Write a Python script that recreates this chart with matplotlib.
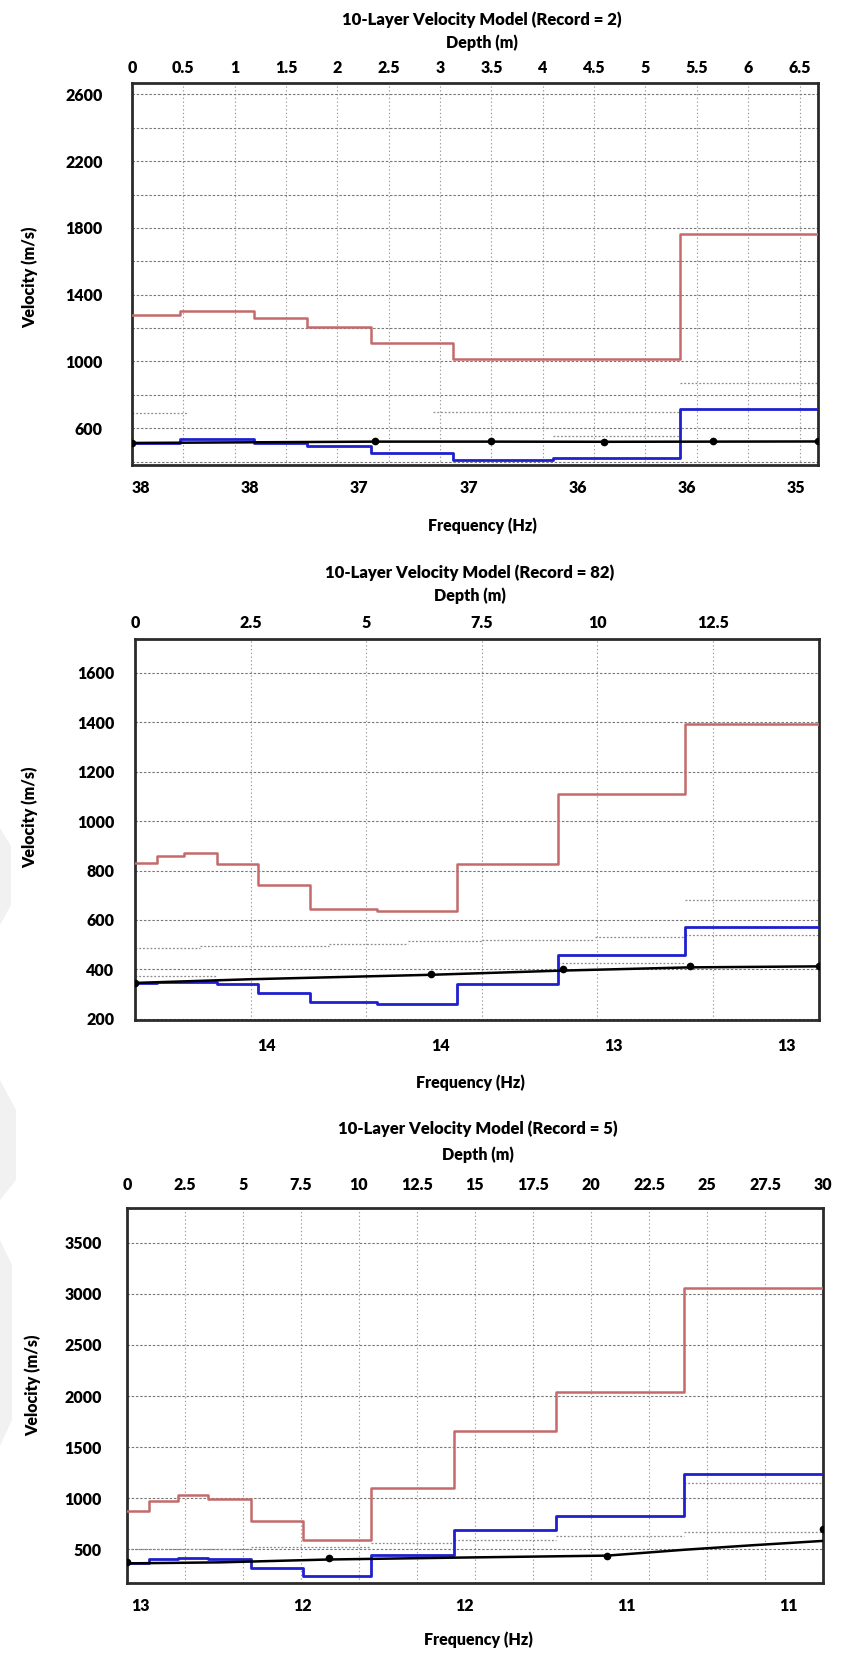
import numpy as np
import matplotlib
matplotlib.use("Agg")
import matplotlib.pyplot as plt
from matplotlib.patches import Polygon
from matplotlib.ticker import FixedLocator, MultipleLocator

plt.rcParams['font.family'] = ['Lato', 'DejaVu Sans']
plt.rcParams['font.weight'] = 'bold'

W, H = 843, 1654
WEIGHT = 'heavy'

# ---------------- Record 2 ----------------
rec2_layer_top = [0, 0.47, 1.19, 1.70, 2.33, 3.13, 4.10, 5.34]
rec2_vp = [1278, 1302, 1260, 1207, 1113, 1015, 1015, 1761]
rec2_vs = [510, 534, 510, 494, 454, 410, 420, 714]
rec2_curve_depth = [0, 2.37, 3.50, 4.60, 5.66, 6.68]
rec2_curve_vel = [512, 520, 520, 519, 520, 521]
rec2_point_depth = [0, 2.37, 3.50, 4.60, 5.66, 6.68]
rec2_point_vel = [512, 522, 522, 519, 521, 521]
rec2_bound_start = [0, 2.93, 5.34, 4.10]
rec2_bound_end = [0.55, 5.34, 6.68, 5.34]
rec2_bound_vel = [690, 700, 870, 555]
rec2_depth_ticks = [0, 0.5, 1, 1.5, 2, 2.5, 3, 3.5, 4, 4.5, 5, 5.5, 6, 6.5]
rec2_vel_ticks = [600, 1000, 1400, 1800, 2200, 2600]
rec2_freq_labels = ['38', '38', '37', '37', '36', '36', '35']

# ---------------- Record 82 ----------------
rec82_layer_top = [0, 0.47, 1.05, 1.77, 2.66, 3.79, 5.24, 6.97, 9.15, 11.89]
rec82_vp = [831, 860, 870, 826, 740, 646, 638, 826, 1111, 1395]
rec82_vs = [345, 350, 350, 342, 306, 267, 259, 342, 458, 573]
rec82_curve_depth = [0, 2.5, 6.41, 9.25, 12.0, 14.8]
rec82_curve_vel = [345, 360, 378, 395, 408, 412]
rec82_point_depth = [0, 6.41, 9.25, 12.0, 14.8]
rec82_point_vel = [345, 382, 400, 412, 412]
rec82_bound_start = [0, 1.4, 4.2, 5.9, 7.5, 9.96, 11.89, 11.89, 9.15, 0]
rec82_bound_end = [1.4, 4.2, 5.9, 7.5, 9.96, 11.89, 14.8, 14.8, 11.89, 1.77]
rec82_bound_vel = [486, 494, 504, 514, 518, 530, 682, 537, 425, 372]
rec82_depth_ticks = [0, 2.5, 5, 7.5, 10, 12.5]
rec82_vel_ticks = [200, 400, 600, 800, 1000, 1200, 1400, 1600]
rec82_freq_labels = ['14', '14', '13', '13']

# ---------------- Record 5 ----------------
rec5_layer_top = [0, 0.95, 2.2, 3.5, 5.35, 7.6, 10.5, 14.1, 18.5, 24.0]
rec5_vp = [878, 973, 1032, 993, 778, 592, 1103, 1659, 2035, 3060]
rec5_vs = [364, 403, 419, 403, 321, 242, 440, 685, 827, 1240]
rec5_curve_depth = [0, 4, 8.7, 14.1, 20.7, 24, 27, 30]
rec5_curve_vel = [362, 372, 400, 418, 438, 495, 540, 582]
rec5_point_depth = [0, 8.7, 20.7, 30]
rec5_point_vel = [380, 410, 438, 700]
rec5_bound_start = [0, 5.35, 10.5, 14.1, 18.5, 24.0, 24.0]
rec5_bound_end = [5.35, 10.5, 14.1, 18.5, 24.0, 30, 30]
rec5_bound_vel = [505, 522, 558, 594, 630, 666, 1150]
rec5_depth_ticks = [0, 2.5, 5, 7.5, 10, 12.5, 15, 17.5, 20, 22.5, 25, 27.5, 30]
rec5_vel_ticks = [500, 1000, 1500, 2000, 2500, 3000, 3500]
rec5_freq_labels = ['13', '12', '12', '11', '11']

panels = [
    dict(record=2, box=(132, 83, 818, 465), dmax=6.68, vlim=(380, 2668), vstep=200,
         top=rec2_layer_top, vp=rec2_vp, vs=rec2_vs,
         cd=rec2_curve_depth, cv=rec2_curve_vel, pd=rec2_point_depth, pv=rec2_point_vel,
         bs=rec2_bound_start, be=rec2_bound_end, bv=rec2_bound_vel,
         dticks=rec2_depth_ticks, vticks=rec2_vel_ticks, flabels=rec2_freq_labels,
         fpos=(0.013, 0.968), title_y=20, depth_y=43, xlab_y=526, ylab=(30, 277),
         cx=482, ypad=21, tpad=5, bpad=11),
    dict(record=82, box=(135, 639, 819, 1020), dmax=14.8, vlim=(195, 1737), vstep=200,
         top=rec82_layer_top, vp=rec82_vp, vs=rec82_vs,
         cd=rec82_curve_depth, cv=rec82_curve_vel, pd=rec82_point_depth, pv=rec82_point_vel,
         bs=rec82_bound_start, be=rec82_bound_end, bv=rec82_bound_vel,
         dticks=rec82_depth_ticks, vticks=rec82_vel_ticks, flabels=rec82_freq_labels,
         fpos=(0.193, 0.953), title_y=573, depth_y=596, xlab_y=1083, ylab=(30, 817),
         cx=470, ypad=15, tpad=6, bpad=13),
    dict(record=5, box=(127, 1208, 823, 1583), dmax=30.0, vlim=(170, 3840), vstep=500,
         top=rec5_layer_top, vp=rec5_vp, vs=rec5_vs,
         cd=rec5_curve_depth, cv=rec5_curve_vel, pd=rec5_point_depth, pv=rec5_point_vel,
         bs=rec5_bound_start, be=rec5_bound_end, bv=rec5_bound_vel,
         dticks=rec5_depth_ticks, vticks=rec5_vel_ticks, flabels=rec5_freq_labels,
         fpos=(0.020, 0.951), title_y=1129, depth_y=1155, xlab_y=1640, ylab=(33, 1385),
         cx=478, ypad=18, tpad=11, bpad=11),
]

fig = plt.figure(figsize=(W / 100, H / 100), dpi=100)
fig.patch.set_facecolor('white')

# faint background shapes along the left margin
for pts in ([(0, 828), (11, 846), (11, 905), (0, 925)],
            [(0, 1080), (16, 1110), (16, 1180), (0, 1200)],
            [(0, 1240), (12, 1265), (12, 1420), (0, 1446)]):
    fig.patches.append(Polygon([(x / W, 1 - y / H) for x, y in pts], closed=True,
                               transform=fig.transFigure, facecolor='#f1f1f1',
                               edgecolor='none', zorder=0))

FS = 11.5
for p in panels:
    l, t, r, b = p['box']
    ax = fig.add_axes([l / W, 1 - b / H, (r - l) / W, (b - t) / H])
    axf = ax.twiny()

    ax.set_xlim(0, p['dmax'])
    ax.set_ylim(*p['vlim'])

    # grid
    ax.yaxis.set_major_locator(FixedLocator(p['vticks']))
    ax.yaxis.set_minor_locator(MultipleLocator(p['vstep']))
    ax.xaxis.set_major_locator(FixedLocator(p['dticks']))
    ax.grid(which='both', axis='y', color='#777777', ls=(0, (2.2, 1.6)), lw=0.8)
    ax.grid(which='major', axis='x', color='#9a9a9a', ls=(0, (1.2, 2.2)), lw=0.8)
    ax.set_axisbelow(True)

    # grey dotted bounds
    ax.hlines(p['bv'], p['bs'], p['be'], colors='#8c8c8c', linestyles=(0, (1.5, 1.5)),
              lw=0.9, zorder=2)

    # velocity profiles
    x = list(p['top']) + [p['dmax']]
    ax.step(x, list(p['vp']) + [p['vp'][-1]], where='post', color='#c46a6a', lw=1.8, zorder=3)
    ax.step(x, list(p['vs']) + [p['vs'][-1]], where='post', color='#1f1fcf', lw=2.0, zorder=4)

    # dispersion curve
    ax.plot(p['cd'], p['cv'], color='black', lw=1.8, zorder=5)
    ax.plot(p['pd'], p['pv'], 'o', color='black', ms=4.5, zorder=6)

    # top depth axis
    ax.xaxis.set_ticks_position('top')
    ax.xaxis.set_label_position('top')
    ax.set_xticklabels(['{:g}'.format(v) for v in p['dticks']], fontsize=FS, fontweight=WEIGHT)
    ax.tick_params(axis='x', which='both', length=0, pad=p['tpad'],
                   top=True, bottom=False, labeltop=True, labelbottom=False)
    ax.set_yticklabels(['{:g}'.format(v) for v in p['vticks']], fontsize=FS, fontweight=WEIGHT)
    ax.tick_params(axis='y', which='both', length=0, pad=p['ypad'])

    for s in ax.spines.values():
        s.set_linewidth(2.0)
        s.set_color('#2b2b2b')

    # bottom frequency axis
    axf.set_xlim(0, 1)
    axf.set_xticks(np.linspace(p['fpos'][0], p['fpos'][1], len(p['flabels'])))
    axf.set_xticklabels(p['flabels'], fontsize=FS, fontweight=WEIGHT)
    axf.tick_params(axis='x', length=0, pad=p['bpad'],
                    top=False, bottom=True, labeltop=False, labelbottom=True)
    for s in axf.spines.values():
        s.set_visible(False)

    cx = p['cx'] / W
    fig.text(cx, 1 - p['title_y'] / H, '10-Layer Velocity Model (Record = %d)' % p['record'],
             ha='center', va='center', fontsize=12, fontweight=WEIGHT)
    fig.text(cx, 1 - p['depth_y'] / H, 'Depth (m)', ha='center', va='center',
             fontsize=11.5, fontweight=WEIGHT)
    fig.text(cx, 1 - p['xlab_y'] / H, 'Frequency (Hz)', ha='center', va='center',
             fontsize=11.5, fontweight=WEIGHT)
    fig.text(p['ylab'][0] / W, 1 - p['ylab'][1] / H, 'Velocity (m/s)', ha='center',
             va='center', rotation=90, fontsize=11.5, fontweight=WEIGHT)

fig.savefig('out.png', dpi=100, facecolor='white')
